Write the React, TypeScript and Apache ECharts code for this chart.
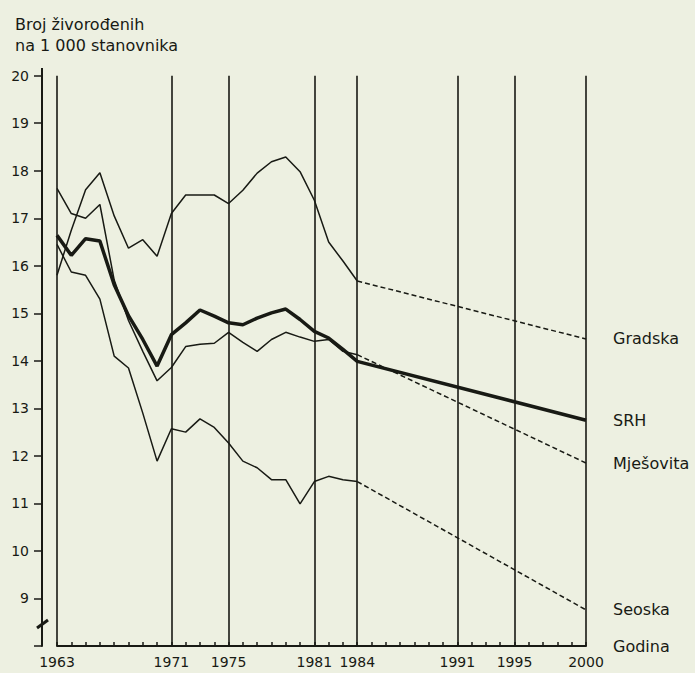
import React, { useEffect, useRef } from "react";
import * as echarts from "echarts";

const years = [1963, 1964, 1965, 1966, 1967, 1968, 1969, 1970, 1971, 1972, 1973, 1974, 1975, 1976, 1977, 1978, 1979, 1980, 1981, 1982, 1983, 1984];
const gradska = [15.8, 16.75, 17.6, 17.96, 17.05, 16.37, 16.55, 16.2, 17.1, 17.49, 17.49, 17.49, 17.31, 17.59, 17.95, 18.19, 18.29, 17.98, 17.38, 16.5, 16.1, 15.68];
const mjesovita = [17.63, 17.1, 17.0, 17.29, 15.7, 14.85, 14.2, 13.58, 13.86, 14.3, 14.35, 14.37, 14.6, 14.39, 14.2, 14.45, 14.6, 14.5, 14.41, 14.45, 14.2, 14.13];
const seoska = [16.45, 15.87, 15.8, 15.3, 14.1, 13.85, 12.9, 11.89, 12.57, 12.5, 12.78, 12.6, 12.27, 11.89, 11.75, 11.5, 11.5, 10.99, 11.46, 11.57, 11.5, 11.46];
const srh = [16.64, 16.22, 16.57, 16.52, 15.6, 14.95, 14.45, 13.89, 14.55, 14.8, 15.07, 14.94, 14.8, 14.76, 14.9, 15.01, 15.09, 14.87, 14.62, 14.48, 14.24, 13.99];

const forecastYears = [1984, 2000];
const gradskaForecast = [15.68, 14.46];
const mjesovitaForecast = [14.13, 11.85];
const seoskaForecast = [11.46, 8.76];
const srhForecast = [13.99, 12.75];

const markedYears = [1963, 1971, 1975, 1981, 1984, 1991, 1995, 2000];
const yTickLabels = [9, 10, 11, 12, 13, 14, 15, 16, 17, 18, 19, 20];

const INK = "#181a14";
const BG = "#edf0e1";
const FONT = "DejaVu Sans";

const pairs = (xs: number[], ys: number[]) => xs.map((x, i) => [x, ys[i]]);

export default function App() {
  const ref = useRef<HTMLDivElement>(null);
  useEffect(() => {
    if (!ref.current) return;
    const chart = echarts.init(ref.current, null, { renderer: "svg" });
    const thin = { color: INK, width: 1.5 };
    const dashed = { color: INK, width: 1.5, type: [5, 3] as any };
    const endLabel = (name: string) => ({
      show: true,
      formatter: name,
      distance: 27,
      color: INK,
      fontSize: 16,
      fontFamily: FONT,
    });
    chart.setOption({
      animation: false,
      backgroundColor: BG,
      title: {
        text: "Broj živorođenih\nna 1 000 stanovnika",
        left: 10,
        top: 9,
        textStyle: { color: INK, fontSize: 16, fontWeight: "normal", fontFamily: FONT, lineHeight: 21 },
      },
      grid: { left: 57, right: 109, top: 75.7, bottom: 27 },
      xAxis: {
        type: "value",
        min: 1963,
        max: 2000,
        interval: 1,
        name: "Godina",
        nameLocation: "end",
        nameGap: 27,
        nameTextStyle: { color: INK, fontSize: 16, fontFamily: FONT, align: "left", padding: [12, 0, 0, 0] },
        axisLine: { show: true, lineStyle: { color: INK, width: 2 } },
        axisTick: { show: true, inside: true, length: 4, lineStyle: { color: INK, width: 1.5 } },
        axisLabel: {
          margin: 9,
          color: INK,
          fontSize: 14,
          fontFamily: FONT,
          hideOverlap: false,
          formatter: (v: number) => (markedYears.includes(v) ? String(v) : ""),
        },
        splitLine: { show: false },
      },
      yAxis: {
        type: "value",
        min: 8,
        max: 20,
        interval: 1,
        offset: 15,
        axisLine: { show: true, lineStyle: { color: INK, width: 2 } },
        axisTick: { show: true, length: 8, lineStyle: { color: INK, width: 1.5 } },
        axisLabel: {
          margin: 13,
          color: INK,
          fontSize: 14,
          fontFamily: FONT,
          formatter: (v: number) => (yTickLabels.includes(v) ? String(v) : ""),
        },
        splitLine: { show: false },
      },
      graphic: [
        { type: "line", shape: { x1: 42, y1: 68, x2: 42, y2: 77 }, style: { stroke: INK, lineWidth: 2 } },
        { type: "line", shape: { x1: 37, y1: 628, x2: 48, y2: 620 }, style: { stroke: INK, lineWidth: 3 } },
      ],
      series: [
        {
          name: "Gradska",
          type: "line",
          data: pairs(years, gradska),
          symbol: "none",
          lineStyle: thin,
          z: 3,
          markLine: {
            silent: true,
            symbol: ["none", "none"],
            label: { show: false },
            lineStyle: { color: INK, width: 1.6, type: "solid" },
            data: markedYears.map((y) => ({ xAxis: y })),
          },
        },
        { name: "Gradska-p", type: "line", data: pairs(forecastYears, gradskaForecast), symbol: "none", lineStyle: dashed, endLabel: endLabel("Gradska") },
        { name: "Mješovita", type: "line", data: pairs(years, mjesovita), symbol: "none", lineStyle: thin },
        { name: "Mješovita-p", type: "line", data: pairs(forecastYears, mjesovitaForecast), symbol: "none", lineStyle: dashed, endLabel: endLabel("Mješovita") },
        { name: "Seoska", type: "line", data: pairs(years, seoska), symbol: "none", lineStyle: thin },
        { name: "Seoska-p", type: "line", data: pairs(forecastYears, seoskaForecast), symbol: "none", lineStyle: dashed, endLabel: endLabel("Seoska") },
        {
          name: "SRH",
          type: "line",
          data: pairs(years, srh).concat(pairs(forecastYears.slice(1), srhForecast.slice(1))),
          symbol: "none",
          lineStyle: { color: INK, width: 3.5 },
          endLabel: endLabel("SRH"),
        },
      ],
    });
    return () => chart.dispose();
  }, []);
  return (
    <div
      ref={ref}
      style={{ position: "fixed", left: 0, top: 0, width: 695, height: 673, background: BG }}
    />
  );
}
